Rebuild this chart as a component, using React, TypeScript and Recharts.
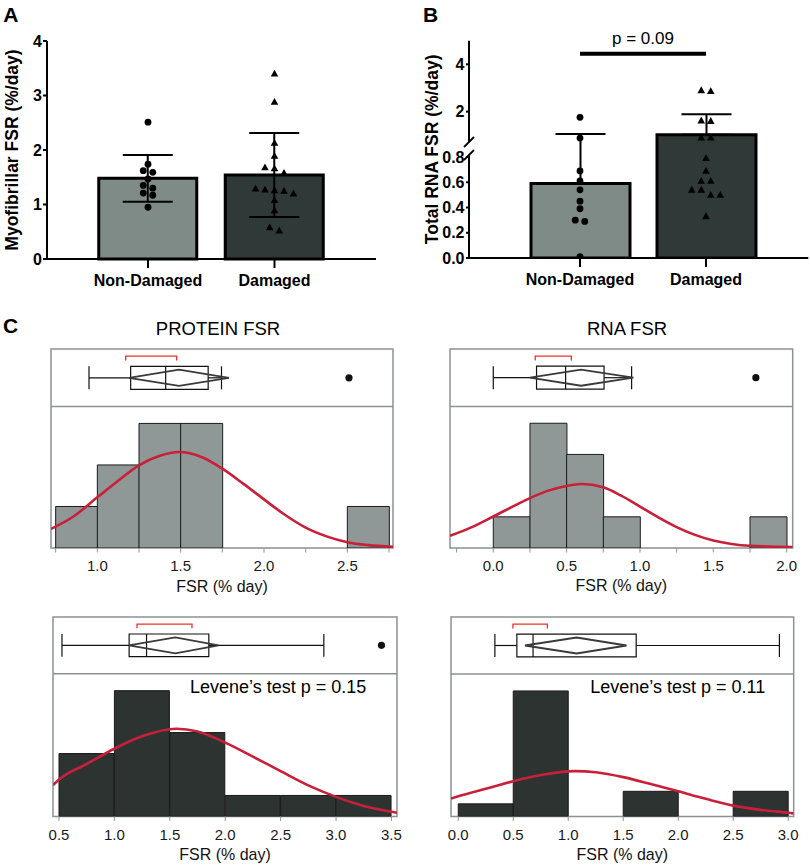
import React from "react";
import {
  ComposedChart, Bar, Cell, ErrorBar, Scatter, Line,
  XAxis, YAxis, ReferenceLine, ReferenceArea,
} from "recharts";

const FONT = '"Liberation Sans", Arial, Helvetica, sans-serif';
const INK = "#000000";
const FRAME = "#8b9391";
const RED = "#c8203a";
const BRACKET = "#f0302c";
const BAR_FILLS = ["#7e8b87", "#2e3938"];
const HIST_LIGHT = "#8f9896";
const HIST_DARK = "#2c3331";

const groups = ["Non-Damaged", "Damaged"];

// A - myofibrillar FSR (%/day)
const myoMean = [1.48, 1.54];
const myoSd = [0.43, 0.77];
const myoNonDamaged = [2.51, 1.74, 1.62, 1.59, 1.47, 1.35, 1.3, 1.21, 1.17, 0.95];
const myoDamaged = [3.4, 2.88, 2.13, 1.89, 1.68, 1.66, 1.58, 1.29, 1.27, 1.26, 1.25, 1.2, 1.08, 0.89, 0.58, 0.52];
const myoTicks = [0, 1, 2, 3, 4];

// B - total RNA FSR (%/day), axis broken at 0.8
const rnaMean = [0.59, 1.02];
const rnaSd = [0.46, 0.87];
const rnaNonDamaged = [1.76, 0.88, 0.69, 0.61, 0.54, 0.45, 0.39, 0.3, 0.29, 0.01];
const rnaDamaged = [2.9, 2.86, 1.62, 1.6, 0.9, 0.9, 0.79, 0.69, 0.61, 0.61, 0.54, 0.54, 0.5, 0.5, 0.33];
const rnaTicks = [0, 0.2, 0.4, 0.6, 0.8, 2, 4];
const rnaSigLevel = 4.45;
const rnaPLabel = "p = 0.09";

// C - histogram counts per bin
const protNdBins = [1, 2, 3, 3, 0, 0, 0, 1]; // from 0.75, width 0.25
const rnaNdBins = [1, 4, 3, 1, 0, 0, 0, 1]; // from 0, width 0.25
const protDBins = [3, 6, 4, 1, 1, 1]; // from 0.5, width 0.5
const rnaDBins = [1, 10, 0, 2, 0, 2]; // from 0, width 0.5

// C - box plot summaries (quantiles, mean diamond, shortest half bracket)
const protNdStats = { min: 0.95, q1: 1.2, median: 1.41, q3: 1.665, max: 1.745, mean: 1.49, ciLo: 1.19, ciHi: 1.79, shortLo: 1.17, shortHi: 1.476, outliers: [2.51] };
const rnaNdStats = { min: 0.0, q1: 0.295, median: 0.493, q3: 0.755, max: 0.943, mean: 0.598, ciLo: 0.25, ciHi: 0.955, shortLo: 0.286, shortHi: 0.532, outliers: [1.79] };
const protDStats = { min: 0.527, q1: 1.133, median: 1.29, q3: 1.852, max: 2.89, mean: 1.55, ciLo: 1.13, ciHi: 1.94, shortLo: 1.204, shortHi: 1.7, outliers: [3.41] };
const rnaDStats = { min: 0.333, q1: 0.533, median: 0.68, q3: 1.618, max: 2.92, mean: 1.076, ciLo: 0.606, ciHi: 1.53, shortLo: 0.497, shortHi: 0.81, outliers: [] as number[] };

// C - fitted normal curves (x, count)
const protNdCurve = [[0.722, 0.46], [0.85, 0.74], [1.0, 1.22], [1.125, 1.62], [1.25, 1.99], [1.375, 2.22], [1.49, 2.31], [1.625, 2.19], [1.75, 1.91], [1.875, 1.55], [2.0, 1.17], [2.125, 0.8], [2.25, 0.49], [2.375, 0.28], [2.5, 0.14], [2.625, 0.07], [2.774, 0.03]];
const rnaNdCurve = [[-0.295, 0.39], [-0.15, 0.66], [0.0, 1.01], [0.125, 1.31], [0.25, 1.6], [0.375, 1.84], [0.5, 1.99], [0.6, 2.05], [0.75, 1.95], [0.875, 1.67], [1.0, 1.33], [1.125, 0.98], [1.25, 0.67], [1.375, 0.42], [1.5, 0.24], [1.625, 0.13], [1.75, 0.07], [2.041, 0.03]];
const protDCurve = [[0.446, 1.49], [0.5, 1.76], [0.75, 2.5], [1.0, 3.23], [1.25, 3.82], [1.56, 4.18], [1.75, 4.05], [2.0, 3.52], [2.25, 2.85], [2.5, 2.16], [2.75, 1.48], [3.0, 0.93], [3.25, 0.5], [3.5, 0.22], [3.55, 0.17]];
const rnaDCurve = [[-0.066, 1.42], [0.0, 1.6], [0.25, 2.2], [0.5, 2.8], [0.75, 3.3], [1.06, 3.61], [1.25, 3.52], [1.5, 3.13], [1.75, 2.58], [2.0, 2.0], [2.25, 1.4], [2.5, 0.86], [2.75, 0.52], [3.0, 0.29], [3.05, 0.24]];

const protNdTicks = [0.75, 1.0, 1.25, 1.5, 1.75, 2.0, 2.25, 2.5, 2.75];
const rnaNdTicks = [-0.25, 0, 0.25, 0.5, 0.75, 1.0, 1.25, 1.5, 1.75, 2.0];
const protDTicks = [0.5, 1.0, 1.5, 2.0, 2.5, 3.0, 3.5];
const rnaDTicks = [0, 0.5, 1.0, 1.5, 2.0, 2.5, 3.0];

const leveneProt = "Levene\u2019s test p = 0.15";
const leveneRna = "Levene\u2019s test p = 0.11";

// broken axis for B: values mapped to pixel units of the plot
const BREAK = 0.8;
const RNA_TOP = 5;
const LOW_PX = 126.25;
const GAP_PX = 17;
const HIGH_PX = 23.65;
const brk = (v: number) => (v <= BREAK ? v * LOW_PX : BREAK * LOW_PX + GAP_PX + (v - BREAK) * HIGH_PX);

// spread points that sit at nearly the same height side by side
function placePoints(name: string, vals: number[], toY: (v: number) => number, pxPerY: number, tol: number) {
  const px = vals.map((v) => toY(v) * pxPerY);
  const order = vals.map((_, i) => i).sort((a, b) => px[b] - px[a]);
  const dx = vals.map(() => 0);
  let cluster: number[] = [];
  const flush = () => {
    cluster.forEach((idx, j) => { dx[idx] = (j - (cluster.length - 1) / 2) * 9.5; });
    cluster = [];
  };
  order.forEach((idx) => {
    if (cluster.length && px[cluster[cluster.length - 1]] - px[idx] > tol) flush();
    cluster.push(idx);
  });
  flush();
  return vals.map((v, i) => ({ name, v, y: toY(v), dx: dx[i] }));
}

const dotShape = (p: any) => <circle cx={p.cx + (p.payload.dx || 0)} cy={p.cy} r={3.4} fill={INK} />;
const triShape = (p: any) => {
  const x = p.cx + (p.payload.dx || 0);
  const y = p.cy;
  return <polygon points={`${x},${y - 4} ${x - 3.8},${y + 2.8} ${x + 3.8},${y + 2.8}`} fill={INK} />;
};

const boldTick = { fill: INK, fontSize: 16, fontWeight: "bold", fontFamily: FONT };
const axisStroke = { stroke: INK, strokeWidth: 2 };

function PanelA() {
  const data = groups.map((name, i) => ({ name, mean: myoMean[i], sd: myoSd[i] }));
  const pxPerUnit = 218 / myoTicks[myoTicks.length - 1];
  const nd = placePoints(groups[0], myoNonDamaged, (v) => v, pxPerUnit, 4.5);
  const dm = placePoints(groups[1], myoDamaged, (v) => v, pxPerUnit, 4.5);
  return (
    <div style={{ position: "absolute", left: 0, top: 0 }}>
      <ComposedChart width={380} height={299} data={data} margin={{ top: 41, right: 4, bottom: 0, left: 0 }}>
        <XAxis dataKey="name" type="category" allowDuplicatedCategory={false} padding={{ left: 37.75, right: 38.25 }}
          axisLine={axisStroke} tickLine={axisStroke} tickSize={9} tickMargin={7} tick={boldTick} height={40} interval={0} />
        <YAxis type="number" domain={[0, 4]} ticks={myoTicks} interval={0} width={47}
          axisLine={axisStroke} tickLine={axisStroke} tickSize={4} tickMargin={1} tick={boldTick}
          label={{ value: "Myofibrillar FSR (%/day)", angle: -90, position: "insideLeft", offset: 12, style: { textAnchor: "middle" }, fontSize: 17.5, fontWeight: "bold", fill: INK, fontFamily: FONT }} />
        <Bar dataKey="mean" barSize={98} stroke={INK} strokeWidth={3} isAnimationActive={false}>
          {data.map((d, i) => <Cell key={d.name} fill={BAR_FILLS[i]} />)}
          <ErrorBar dataKey="sd" width={25} stroke={INK} strokeWidth={2} />
        </Bar>
        <Scatter data={nd} dataKey="y" shape={dotShape} isAnimationActive={false} />
        <Scatter data={dm} dataKey="y" shape={triShape} isAnimationActive={false} />
      </ComposedChart>
    </div>
  );
}

function PanelB() {
  const data = groups.map((name, i) => ({
    name,
    y: brk(rnaMean[i]),
    err: [0, brk(rnaMean[i] + rnaSd[i]) - brk(rnaMean[i])],
  }));
  const nd = placePoints(groups[0], rnaNonDamaged, brk, 1, 5.5);
  const dm = placePoints(groups[1], rnaDamaged, brk, 1, 5.5);
  const plotW = 339.3;
  const px = 1 / plotW;
  const lowEnd = brk(BREAK) + 2;
  const highStart = brk(BREAK) + GAP_PX - 2;
  const fmt = (v: number) => {
    const t = rnaTicks.find((k) => Math.abs(brk(k) - v) < 1e-6);
    if (t === undefined) return "";
    return t < 1 ? t.toFixed(1) : String(t);
  };
  const ax = { xAxisId: "ax", stroke: INK, strokeWidth: 2, ifOverflow: "visible" as const };
  return (
    <div style={{ position: "absolute", left: 400, top: 0 }}>
      <ComposedChart width={410} height={298} data={data} margin={{ top: 40.67, right: 1.7, bottom: 0, left: 0 }}>
        <XAxis dataKey="name" type="category" allowDuplicatedCategory={false} padding={{ left: 48, right: 39.3 }}
          axisLine={axisStroke} tickLine={axisStroke} tickSize={9} tickMargin={7} tick={boldTick} height={40} interval={0} />
        <XAxis xAxisId="ax" type="number" domain={[0, 1]} allowDataOverflow hide height={0} orientation="top" />
        <YAxis type="number" domain={[0, brk(RNA_TOP)]} allowDataOverflow ticks={rnaTicks.map(brk)} interval={0}
          tickFormatter={fmt} width={69} axisLine={false} tickLine={axisStroke} tickSize={3} tickMargin={1.5} tick={boldTick}
          label={{ value: "Total RNA FSR (%/day)", angle: -90, position: "insideLeft", offset: 31.7, style: { textAnchor: "middle" }, fontSize: 17.5, fontWeight: "bold", fill: INK, fontFamily: FONT }} />
        <ReferenceLine {...ax} segment={[{ x: 0, y: 0 }, { x: 0, y: lowEnd }]} />
        <ReferenceLine {...ax} segment={[{ x: 0, y: highStart }, { x: 0, y: brk(RNA_TOP) }]} />
        <ReferenceLine {...ax} strokeWidth={1.8} segment={[{ x: -5 * px, y: lowEnd - 5 }, { x: 5 * px, y: lowEnd + 5 }]} />
        <ReferenceLine {...ax} strokeWidth={1.8} segment={[{ x: -5 * px, y: highStart - 5 }, { x: 5 * px, y: highStart + 5 }]} />
        <Bar dataKey="y" barSize={99} stroke={INK} strokeWidth={3} isAnimationActive={false}>
          {data.map((d, i) => <Cell key={d.name} fill={BAR_FILLS[i]} />)}
          <ErrorBar dataKey="err" width={25} stroke={INK} strokeWidth={2} />
        </Bar>
        <Scatter data={nd} dataKey="y" shape={dotShape} isAnimationActive={false} />
        <Scatter data={dm} dataKey="y" shape={triShape} isAnimationActive={false} />
        <ReferenceLine segment={[{ x: groups[0], y: brk(rnaSigLevel) }, { x: groups[1], y: brk(rnaSigLevel) }]}
          stroke={INK} strokeWidth={4} ifOverflow="visible"
          label={{ value: rnaPLabel, position: "top", offset: 10, fill: INK, fontSize: 17, fontFamily: FONT }} />
      </ComposedChart>
    </div>
  );
}

type Stats = typeof protNdStats;
type Frame = { left: number; top: number; width: number; height: number; strip: number; domain: [number, number] };

const halfTickFmt = (v: number) => (Math.abs(v * 2 - Math.round(v * 2)) < 1e-6 ? v.toFixed(1) : "");

function HistPanel({ frame, ticks, bins, binStart, binWidth, stats, curve, fill }: {
  frame: Frame; ticks: number[]; bins: number[]; binStart: number; binWidth: number; stats: Stats; curve: number[][]; fill: string;
}) {
  const { left, top, width, height, strip, domain } = frame;
  const [lo, hi] = domain;
  const histH = height - strip;
  const hTop = (Math.max(...bins) * 1.135 * height) / histH;
  const bLo = -histH / strip;
  const binData = bins.map((count, i) => ({ bin: String(binStart + i * binWidth), count }));
  const binEnd = binStart + bins.length * binWidth;
  const pxPerUnit = width / (hi - lo);
  const padL = (binStart - lo) * pxPerUnit;
  const padR = (hi - binEnd) * pxPerUnit;
  const curveData = curve.map(([x, y]) => ({ x, y }));
  const diamond = [
    { x: stats.ciLo, y: 0.5 }, { x: stats.mean, y: 0.64 }, { x: stats.ciHi, y: 0.5 },
    { x: stats.mean, y: 0.36 }, { x: stats.ciLo, y: 0.5 },
  ];
  const bracket = [
    { x: stats.shortLo, y: 0.8 }, { x: stats.shortLo, y: 0.875 },
    { x: stats.shortHi, y: 0.875 }, { x: stats.shortHi, y: 0.8 },
  ];
  const outliers = stats.outliers.map((x) => ({ x, y: 0.5 }));
  const seg = (x1: number, y1: number, x2: number, y2: number) => [{ x: x1, y: y1 }, { x: x2, y: y2 }];
  const rl = { xAxisId: "num", yAxisId: "b", stroke: "#111", strokeWidth: 1.2, ifOverflow: "visible" as const };
  const M = 2;
  const MX = 14;
  const AX_H = 48;
  return (
    <div style={{ position: "absolute", left: left - MX, top: top - M }}>
      <ComposedChart width={width + 2 * MX} height={height + M + AX_H} data={binData}
        margin={{ top: M, right: MX, bottom: 0, left: MX }} barCategoryGap={0} barGap={0}>
        <XAxis xAxisId="num" dataKey="x" type="number" domain={[lo, hi]} allowDataOverflow ticks={ticks} interval={0}
          tickFormatter={halfTickFmt} axisLine={false} tickLine={{ stroke: FRAME }} tickSize={4.5} tickMargin={8}
          tick={{ fill: "#1a1a1a", fontSize: 15, fontFamily: FONT }} height={AX_H}
          label={{ value: "FSR (% day)", position: "insideBottom", offset: 4.5, fill: "#111", fontSize: 16, fontFamily: FONT }} />
        <XAxis xAxisId="bins" dataKey="bin" type="category" hide height={0} orientation="top" padding={{ left: padL, right: padR }} />
        <YAxis yAxisId="h" type="number" domain={[0, hTop]} allowDataOverflow hide />
        <YAxis yAxisId="b" type="number" domain={[bLo, 1]} allowDataOverflow hide />
        <Bar xAxisId="bins" yAxisId="h" dataKey="count" fill={fill} stroke="#1a1a1a" strokeWidth={1} isAnimationActive={false} />
        <ReferenceArea xAxisId="num" yAxisId="b" x1={lo} x2={hi} y1={bLo} y2={1} fill="none" stroke={FRAME} strokeWidth={1.5} ifOverflow="visible" />
        <ReferenceLine xAxisId="num" yAxisId="b" y={0} stroke={FRAME} strokeWidth={1.5} />
        <ReferenceLine {...rl} segment={seg(stats.min, 0.5, stats.q1, 0.5)} />
        <ReferenceLine {...rl} segment={seg(stats.q3, 0.5, stats.max, 0.5)} />
        <ReferenceLine {...rl} segment={seg(stats.min, 0.3, stats.min, 0.7)} />
        <ReferenceLine {...rl} segment={seg(stats.max, 0.3, stats.max, 0.7)} />
        <ReferenceLine {...rl} segment={seg(stats.median, 0.3, stats.median, 0.7)} />
        <ReferenceArea xAxisId="num" yAxisId="b" x1={stats.q1} x2={stats.q3} y1={0.3} y2={0.7} fill="none" stroke="#111" strokeWidth={1.2} ifOverflow="visible" />
        <Line xAxisId="num" yAxisId="b" data={diamond} dataKey="y" type="linear" stroke="#3a3a3a" strokeWidth={1.8} dot={false} activeDot={false} isAnimationActive={false} />
        <Line xAxisId="num" yAxisId="b" data={bracket} dataKey="y" type="linear" stroke={BRACKET} strokeWidth={1.3} dot={false} activeDot={false} isAnimationActive={false} />
        <Scatter xAxisId="num" yAxisId="b" data={outliers} dataKey="y" isAnimationActive={false}
          shape={(p: any) => <circle cx={p.cx} cy={p.cy} r={3.6} fill="#111" />} />
        <Line xAxisId="num" yAxisId="h" data={curveData} dataKey="y" type="monotone" stroke={RED} strokeWidth={2.6} dot={false} activeDot={false} isAnimationActive={false} />
      </ComposedChart>
    </div>
  );
}

function Overlay() {
  return (
    <svg width={810} height={866} style={{ position: "absolute", left: 0, top: 0, pointerEvents: "none" }} fontFamily={FONT} fill={INK}>
      <text x={3.3} y={21.7} fontSize={21} fontWeight="bold">A</text>
      <text x={423} y={21.7} fontSize={21} fontWeight="bold">B</text>
      <text x={3} y={333.3} fontSize={21} fontWeight="bold">C</text>
      <text x={218} y={335} fontSize={18.5} textAnchor="middle">PROTEIN FSR</text>
      <text x={627} y={334.5} fontSize={18.5} textAnchor="middle">RNA FSR</text>
      <text x={190} y={692.7} fontSize={18}>{leveneProt}</text>
      <text x={590.3} y={693.3} fontSize={18}>{leveneRna}</text>
    </svg>
  );
}

export default function App() {
  return (
    <div style={{ position: "absolute", left: 0, top: 0, width: 810, height: 866, background: "#fff", fontFamily: FONT, overflow: "hidden" }}>
      <PanelA />
      <PanelB />
      <HistPanel frame={{ left: 51, top: 348.7, width: 342, height: 199, strip: 57.6, domain: [0.722, 2.774] }}
        ticks={protNdTicks} bins={protNdBins} binStart={0.75} binWidth={0.25} stats={protNdStats} curve={protNdCurve} fill={HIST_LIGHT} />
      <HistPanel frame={{ left: 450, top: 349.3, width: 342.7, height: 199, strip: 57.4, domain: [-0.295, 2.041] }}
        ticks={rnaNdTicks} bins={rnaNdBins} binStart={0} binWidth={0.25} stats={rnaNdStats} curve={rnaNdCurve} fill={HIST_LIGHT} />
      <HistPanel frame={{ left: 53.3, top: 617.3, width: 344, height: 199.4, strip: 56.7, domain: [0.446, 3.55] }}
        ticks={protDTicks} bins={protDBins} binStart={0.5} binWidth={0.5} stats={protDStats} curve={protDCurve} fill={HIST_DARK} />
      <HistPanel frame={{ left: 451, top: 617.3, width: 342.7, height: 199.4, strip: 57, domain: [-0.066, 3.05] }}
        ticks={rnaDTicks} bins={rnaDBins} binStart={0} binWidth={0.5} stats={rnaDStats} curve={rnaDCurve} fill={HIST_DARK} />
      <Overlay />
    </div>
  );
}
